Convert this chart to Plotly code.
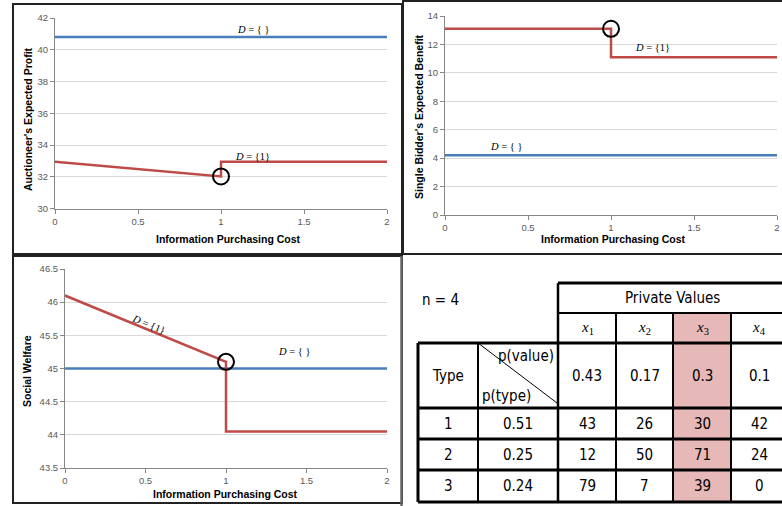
import plotly.graph_objects as go

W, H = 782, 506

# ---------------- data ----------------
cost_ends = [0, 2]
cost_step = [0, 1, 1, 2]

profit_empty = [40.8, 40.8]
profit_d1 = [32.95, 32.02, 32.95, 32.95]

benefit_empty = [4.2, 4.2]
benefit_d1 = [13.1, 13.1, 11.1, 11.1]

welfare_empty = [45.0, 45.0]
welfare_d1 = [46.1, 45.1, 44.05, 44.05]

x_ticks = [0, 0.5, 1, 1.5, 2]
x_tick_text = ["0", "0.5", "1", "1.5", "2"]
profit_ticks = [30, 32, 34, 36, 38, 40, 42]
benefit_ticks = [0, 2, 4, 6, 8, 10, 12, 14]
welfare_ticks = [43.5, 44, 44.5, 45, 45.5, 46, 46.5]
welfare_tick_text = ["43.5", "44", "44.5", "45", "45.5", "46", "46.5"]

# table data
n_label = "n = 4"
value_labels = ["<i>x</i><sub>1</sub>", "<i>x</i><sub>2</sub>", "<i>x</i><sub>3</sub>", "<i>x</i><sub>4</sub>"]
p_value = ["0.43", "0.17", "0.3", "0.1"]
type_ids = ["1", "2", "3"]
p_type = ["0.51", "0.25", "0.24"]
private_values = [["43", "26", "30", "42"],
                  ["12", "50", "71", "24"],
                  ["79", "7", "39", "0"]]
highlight_col = 2

BLUE = "#4a7ebb"
RED = "#be4b48"
GRID = "#d9d9d9"
AXIS = "#868686"
TICKC = "#595959"
FONT = "Liberation Sans"
NARROW = "DejaVu Sans Condensed, Liberation Sans Narrow, Roboto Condensed, Liberation Sans"
SERIF = "Liberation Serif"


def px(x):
    return x / W


def py(y):
    return 1 - y / H


fig = go.Figure()

ring = dict(symbol="circle-open", size=16, color="black", line=dict(width=2))

# ---- traces ----
fig.add_trace(go.Scatter(x=cost_ends, y=profit_empty, mode="lines", line=dict(color=BLUE, width=2.5), xaxis="x", yaxis="y"))
fig.add_trace(go.Scatter(x=cost_step, y=profit_d1, mode="lines", line=dict(color=RED, width=2.5), xaxis="x", yaxis="y"))
fig.add_trace(go.Scatter(x=[cost_step[1]], y=[profit_d1[1]], mode="markers", marker=ring, xaxis="x", yaxis="y"))

fig.add_trace(go.Scatter(x=cost_ends, y=benefit_empty, mode="lines", line=dict(color=BLUE, width=2.5), xaxis="x2", yaxis="y2"))
fig.add_trace(go.Scatter(x=cost_step, y=benefit_d1, mode="lines", line=dict(color=RED, width=2.5), xaxis="x2", yaxis="y2"))
fig.add_trace(go.Scatter(x=[cost_step[1]], y=[benefit_d1[1]], mode="markers", marker=ring, xaxis="x2", yaxis="y2"))

fig.add_trace(go.Scatter(x=cost_ends, y=welfare_empty, mode="lines", line=dict(color=BLUE, width=2.5), xaxis="x3", yaxis="y3"))
fig.add_trace(go.Scatter(x=cost_step, y=welfare_d1, mode="lines", line=dict(color=RED, width=2.5), xaxis="x3", yaxis="y3"))
fig.add_trace(go.Scatter(x=[cost_step[1]], y=[welfare_d1[1]], mode="markers", marker=ring, xaxis="x3", yaxis="y3"))

xbase = dict(range=[0, 2], tickvals=x_ticks, ticktext=x_tick_text, showgrid=False, showline=True,
             linecolor=AXIS, linewidth=1, ticks="outside", ticklen=4, tickcolor=AXIS,
             tickfont=dict(family=FONT, size=9.5, color=TICKC), zeroline=False, fixedrange=True)
ybase = dict(showgrid=True, gridcolor=GRID, gridwidth=1, showline=True, linecolor=AXIS, linewidth=1,
             ticks="outside", ticklen=4, tickcolor=AXIS, tickfont=dict(family=FONT, size=9.5, color=TICKC),
             zeroline=False, fixedrange=True)

fig.update_layout(
    width=W, height=H, margin=dict(l=0, r=0, t=0, b=0, autoexpand=False),
    paper_bgcolor="white", plot_bgcolor="white", showlegend=False,
    xaxis=dict(xbase, domain=[px(55), px(387)], anchor="y"),
    yaxis=dict(ybase, domain=[py(208.5), py(18)], range=[30, 42], tickvals=profit_ticks, anchor="x"),
    xaxis2=dict(xbase, domain=[px(445), px(777)], anchor="y2"),
    yaxis2=dict(ybase, domain=[py(215), py(16)], range=[0, 14], tickvals=benefit_ticks, anchor="x2"),
    xaxis3=dict(xbase, domain=[px(65), px(387)], anchor="y3"),
    yaxis3=dict(ybase, domain=[py(468), py(269)], range=[43.5, 46.5], tickvals=welfare_ticks,
                ticktext=welfare_tick_text, anchor="x3"),
)

ann = []
shapes = []


def paper_text(text, x, y, font, xanchor="center", angle=0):
    ann.append(dict(text=text, x=px(x), y=py(y), xref="paper", yref="paper", showarrow=False,
                    font=font, xanchor=xanchor, yanchor="middle", textangle=angle))


# axis titles
title_font = dict(family=FONT, size=10.5, color="black")
xt = "<b>Information Purchasing Cost</b>"
paper_text(xt, 228, 239, title_font)
paper_text(xt, 613, 239, title_font)
paper_text(xt, 225, 494, title_font)
paper_text("<b>Auctioneer's Expected Profit</b>", 28, 119, title_font, angle=-90)
paper_text("<b>Single Bidder's Expected Benefit</b>", 419, 116, title_font, angle=-90)
paper_text("<b>Social Welfare</b>", 27, 371, title_font, angle=-90)

# series labels
lab_font = dict(family=SERIF, size=10.5, color="black")
def data_text(text, x, y, xr, yr, angle=0):
    ann.append(dict(text=text, x=x, y=y, xref=xr, yref=yr, showarrow=False, font=lab_font,
                    xanchor="center", yanchor="middle", textangle=angle))

data_text("<i>D</i> = { }", 1.19, 41.3, "x", "y")
data_text("<i>D</i> = {1}", 1.19, 33.25, "x", "y")
data_text("<i>D</i> = {1}", 1.25, 11.75, "x2", "y2")
data_text("<i>D</i> = { }", 0.37, 4.8, "x2", "y2")
data_text("<i>D</i> = {1}", 0.52, 45.66, "x3", "y3", angle=23)
data_text("<i>D</i> = { }", 1.42, 45.25, "x3", "y3")


def rect(x0, y0, x1, y1, color="#222222", width=2, fill=None):
    d = dict(type="rect", xref="paper", yref="paper", x0=px(x0), x1=px(x1), y0=py(y0), y1=py(y1),
             line=dict(color=color, width=width), layer="above")
    if fill:
        d["fillcolor"] = fill
        d["layer"] = "below"
        d["line"] = dict(width=0)
    return d


def line(x0, y0, x1, y1, color="black", width=2):
    return dict(type="line", xref="paper", yref="paper", x0=px(x0), x1=px(x1), y0=py(y0), y1=py(y1),
                line=dict(color=color, width=width), layer="above")


# panel borders
shapes.append(rect(13, 4, 402, 254))
shapes.append(rect(403, 1, 790, 254))
shapes.append(rect(13, 256, 402, 503))
shapes.append(line(401.5, 256, 401.5, 506, color="#666666", width=2.5))

# ---------------- table ----------------
col_edges = [558, 616, 673, 731, 789]
left_edges = [418, 478, 558]
row_top = 283
row_pv = 313
row_x = 343
row_type = 408
row_edges = [408, 439, 470, 502]

tfont = dict(family=NARROW, size=15, color="black")

shapes.append(rect(col_edges[highlight_col], row_pv, col_edges[highlight_col + 1], row_edges[-1],
                   fill="#e6b8b7"))

shapes.append(line(col_edges[0], row_top, 790, row_top, width=3))
shapes.append(line(col_edges[0], row_pv, 790, row_pv, width=2))
shapes.append(line(left_edges[0], row_x, 790, row_x, width=3))
for r in row_edges:
    shapes.append(line(left_edges[0], r, 790, r, width=3))
shapes.append(line(left_edges[0], row_x, left_edges[0], row_edges[-1], width=3))
shapes.append(line(left_edges[1], row_x, left_edges[1], row_edges[-1], width=2))
shapes.append(line(col_edges[0], row_top, col_edges[0], row_edges[-1], width=2.5))
for cx in col_edges[1:-1]:
    shapes.append(line(cx, row_pv, cx, row_edges[-1], width=2))
shapes.append(line(left_edges[1], row_x, left_edges[2] - 1, row_type - 5, width=1))

paper_text(n_label, 420, 300, tfont, xanchor="left")
paper_text("Private Values", (col_edges[0] + 782) / 2 + 2, (row_top + row_pv) / 2, tfont)
xfont = dict(family=SERIF, size=15, color="black")
for i, lab in enumerate(value_labels):
    cx = (col_edges[i] + col_edges[i + 1]) / 2
    if i == len(value_labels) - 1:
        cx = 759
    paper_text(lab, cx, (row_pv + row_x) / 2, xfont)
    paper_text(p_value[i], cx, (row_x + row_type) / 2, tfont)
paper_text("Type", (left_edges[0] + left_edges[1]) / 2, (row_x + row_type) / 2, tfont)
paper_text("p(value)", left_edges[2] - 2, 356, tfont, xanchor="right")
paper_text("p(type)", left_edges[1] + 2, 396, tfont, xanchor="left")
for r in range(len(type_ids)):
    cy = (row_edges[r] + row_edges[r + 1]) / 2
    paper_text(type_ids[r], (left_edges[0] + left_edges[1]) / 2, cy, tfont)
    paper_text(p_type[r], (left_edges[1] + left_edges[2]) / 2, cy, tfont)
    for i, v in enumerate(private_values[r]):
        cx = (col_edges[i] + col_edges[i + 1]) / 2
        if i == len(value_labels) - 1:
            cx = 759
        paper_text(v, cx, cy, tfont)

fig.update_layout(annotations=ann, shapes=shapes)
fig.write_html("out.html", config={"displayModeBar": False},
               post_script="document.body.style.margin='0';document.body.style.overflow='hidden';")
